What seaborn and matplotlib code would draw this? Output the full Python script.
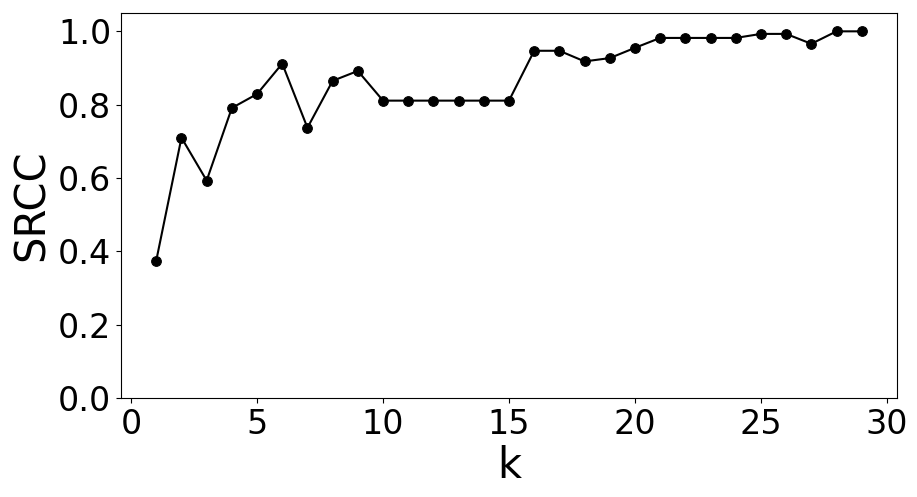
import matplotlib
matplotlib.use("Agg")
import matplotlib.pyplot as plt
import seaborn as sns
import pandas as pd

k_values = list(range(1, 30))
srcc_values = [0.375, 0.710, 0.593, 0.791, 0.829, 0.912, 0.737, 0.865, 0.892,
               0.811, 0.811, 0.811, 0.811, 0.811, 0.811,
               0.947, 0.947, 0.918, 0.927, 0.955,
               0.982, 0.982, 0.982, 0.982, 0.993, 0.993, 0.966, 1.0, 1.0]
x_ticks = [0, 5, 10, 15, 20, 25, 30]
y_ticks = [0.0, 0.2, 0.4, 0.6, 0.8, 1.0]

df = pd.DataFrame({"k": k_values, "SRCC": srcc_values})

fig = plt.figure(figsize=(9.17, 4.97), dpi=100)
ax = fig.add_axes([121 / 917, 1 - 398 / 497, (897 - 121) / 917, (398 - 13) / 497])
sns.lineplot(data=df, x="k", y="SRCC", ax=ax, color="black", marker="o",
             markersize=7, markeredgecolor="black", linewidth=1.5)
ax.set_xlim(-0.4, 30.4)
ax.set_ylim(0, 1.05)
ax.set_xticks(x_ticks)
ax.set_yticks(y_ticks)
ax.set_yticklabels([f"{v:.1f}" for v in y_ticks])
ax.tick_params(labelsize=24)
ax.set_xlabel("k", fontsize=30, labelpad=3)
ax.set_ylabel("SRCC", fontsize=30)
fig.savefig("out.png", dpi=100)
